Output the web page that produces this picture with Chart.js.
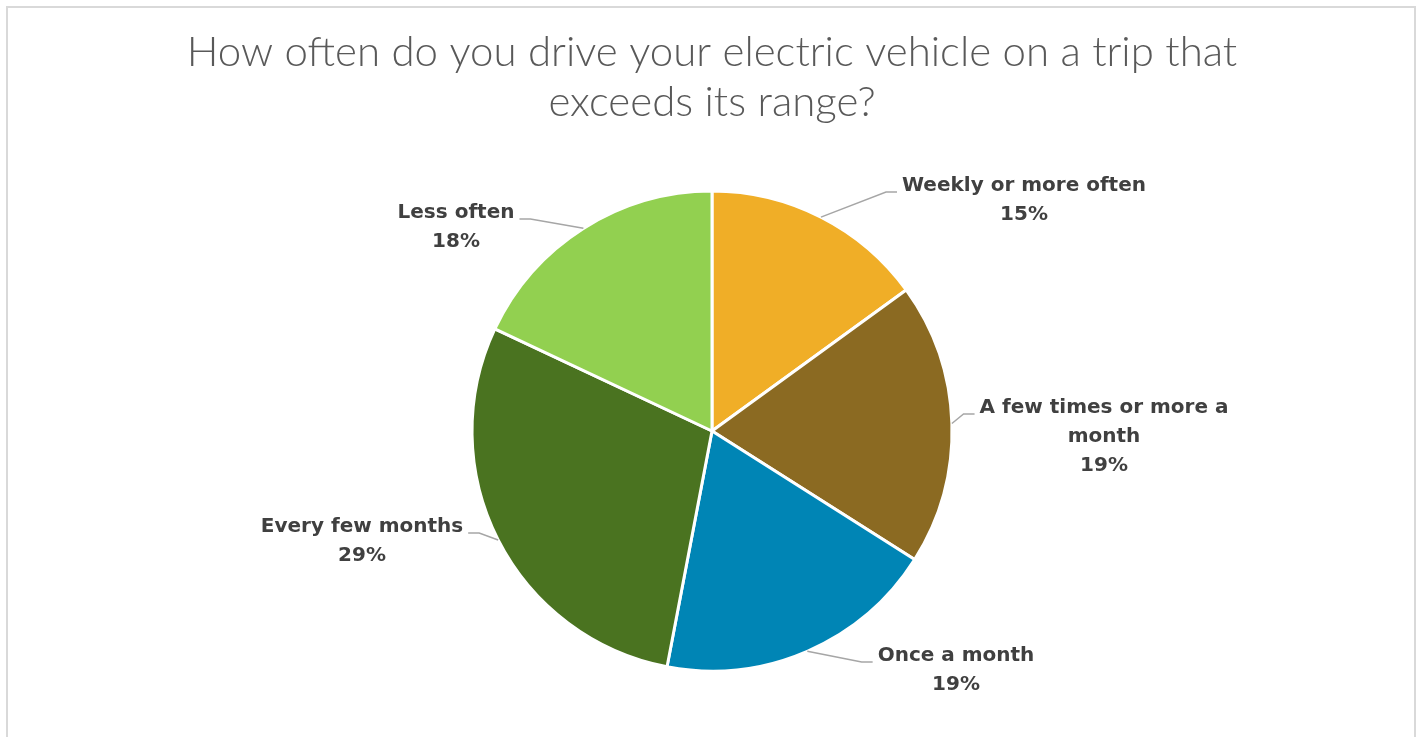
<!DOCTYPE html>
<html lang="en">
<head>
    <meta charset="UTF-8">
    <title>EV trips beyond range</title>
    <script src="https://cdn.jsdelivr.net/npm/chart.js"></script>
    <style>
        html, body {
            margin: 0;
            padding: 0;
            background: #fff;
            overflow: hidden;
        }
        #frame {
            position: absolute;
            left: 6px;
            top: 6px;
            width: 1406px;
            height: 800px;
            border: 2px solid #d9d9d9;
        }
        #wrap {
            position: absolute;
            left: 0;
            top: 0;
            width: 1421px;
            height: 737px;
        }
    </style>
</head>
<body>
    <div id="frame"></div>
    <div id="wrap">
        <canvas id="pieChart"></canvas>
    </div>

    <script>
        const categories = [
            'Weekly or more often',
            'A few times or more a month',
            'Once a month',
            'Every few months',
            'Less often'
        ];
        const shares = [15, 19, 19, 29, 18];
        const sliceColors = ['#f0ae27', '#8b6a22', '#0085b5', '#4a7320', '#92d050'];

        // where each label's first line sits, relative to the pie centre
        const labelOffsets = [
            [312, -245],
            [392, -23],
            [244, 225],
            [-350, 96],
            [-256, -218]
        ];

        const labelFont = 'bold 20px "DejaVu Sans", sans-serif';
        const labelLineHeight = 29;
        const wrapWidth = 265;

        function wrapText(ctx, text, maxWidth) {
            const words = text.split(' ');
            const lines = [];
            let line = '';
            words.forEach(w => {
                const test = line ? line + ' ' + w : w;
                if (ctx.measureText(test).width > maxWidth && line) {
                    lines.push(line);
                    line = w;
                } else {
                    line = test;
                }
            });
            if (line) lines.push(line);
            return lines;
        }

        const calloutLabels = {
            id: 'calloutLabels',
            afterDatasetsDraw(chart) {
                const ctx = chart.ctx;
                const arcs = chart.getDatasetMeta(0).data;
                const total = shares.reduce((a, b) => a + b, 0);
                ctx.save();
                ctx.font = labelFont;
                ctx.textAlign = 'center';
                ctx.textBaseline = 'middle';

                arcs.forEach((arc, i) => {
                    const { x, y, startAngle, endAngle, outerRadius } = arc.getProps(
                        ['x', 'y', 'startAngle', 'endAngle', 'outerRadius'], true);
                    const mid = (startAngle + endAngle) / 2;
                    const [dx, dy] = labelOffsets[i];
                    const lx = x + dx;
                    const ly = y + dy;

                    const lines = wrapText(ctx, categories[i], wrapWidth);
                    lines.push(Math.round(shares[i] / total * 100) + '%');

                    // leader line: arc edge -> elbow -> label edge
                    const firstW = ctx.measureText(lines[0]).width;
                    const side = dx > 0 ? -1 : 1;
                    const edgeX = lx + side * (firstW / 2 + 5);
                    const elbowX = edgeX + side * 11;
                    const lineY = ly + 6;
                    const sx = x + Math.cos(mid) * outerRadius;
                    const sy = y + Math.sin(mid) * outerRadius;
                    ctx.strokeStyle = '#a6a6a6';
                    ctx.lineWidth = 1.5;
                    ctx.beginPath();
                    ctx.moveTo(sx, sy);
                    ctx.lineTo(elbowX, lineY);
                    ctx.lineTo(edgeX, lineY);
                    ctx.stroke();

                    ctx.fillStyle = '#404040';
                    lines.forEach((t, k) => {
                        ctx.fillText(t, lx, ly + k * labelLineHeight);
                    });
                });
                ctx.restore();
            }
        };

        new Chart(document.getElementById('pieChart'), {
            type: 'pie',
            data: {
                labels: categories,
                datasets: [{
                    data: shares,
                    backgroundColor: sliceColors,
                    borderColor: '#ffffff',
                    borderWidth: 3
                }]
            },
            options: {
                responsive: true,
                maintainAspectRatio: false,
                animation: false,
                layout: {
                    padding: { left: 3, bottom: 64.5 }
                },
                plugins: {
                    legend: { display: false },
                    tooltip: { enabled: false },
                    title: {
                        display: true,
                        text: ['How often do you drive your electric vehicle on a trip that', 'exceeds its range?'],
                        color: '#595959',
                        font: { family: 'Lato, "Open Sans", sans-serif', size: 42, weight: '300', lineHeight: '50px' },
                        padding: { top: 27, bottom: 62.5 }
                    }
                }
            },
            plugins: [calloutLabels]
        });
    </script>
</body>
</html>
